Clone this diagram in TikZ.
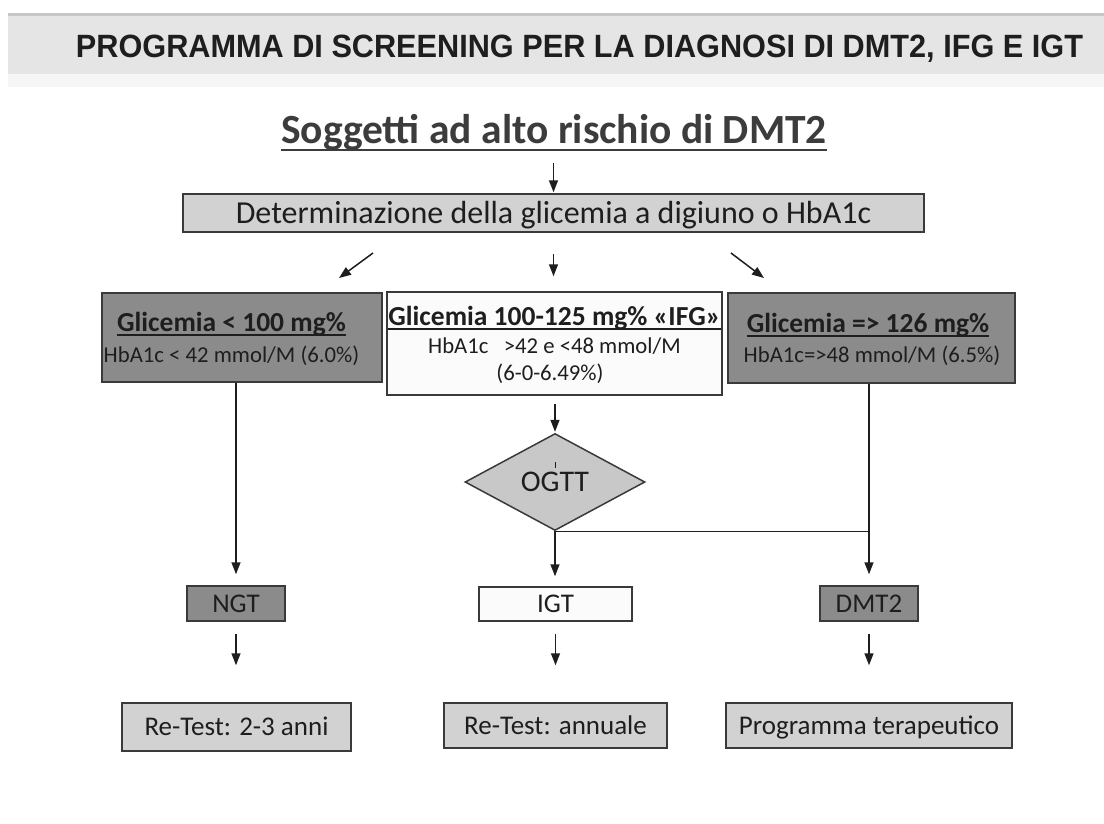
\documentclass[tikz,border=0pt]{standalone}
\usepackage{fontspec}
\usepackage{graphicx}
\setmainfont{Carlito}
\newfontfamily\titlefont{Liberation Sans}
\usetikzlibrary{shapes.geometric,arrows.meta}
\definecolor{darkfill}{HTML}{8B8B8B}
\definecolor{lightfill}{HTML}{D2D2D2}
\definecolor{diamfill}{HTML}{C8C8C8}
\definecolor{whitefill}{HTML}{FBFBFB}
\definecolor{edge}{HTML}{3A3A3A}
\definecolor{ink}{HTML}{1E1E1E}
\definecolor{softink}{HTML}{3C3C3C}
\definecolor{band}{HTML}{E5E5E5}
\definecolor{bandtop}{HTML}{C6C6C6}
\definecolor{bandfade}{HTML}{F6F6F6}
\begin{document}
\begin{tikzpicture}[x=1pt,y=-1pt,
  box/.style={draw=edge, line width=1.5pt, inner sep=0pt},
  lightbox/.style={box, fill=lightfill},
  darkbox/.style={box, fill=darkfill},
  whitebox/.style={box, fill=whitefill},
  boxlabel/.style={inner sep=0pt, text=ink, font=\fontsize{27}{30}\selectfont, text height=17.5pt, text depth=0pt},
  linetext/.style={inner sep=0pt, anchor=base, text=ink},
  boldline/.style={linetext, font=\fontsize{27.5}{30}\selectfont\bfseries},
  plainline/.style={linetext, font=\fontsize{22.7}{26}\selectfont},
  uline/.style={draw=ink, line width=1.6pt},
  arr/.style={draw=ink, fill=ink, line width=1.5pt, -{Triangle[length=12pt,width=9pt]}},
  link/.style={draw=ink, line width=1.5pt}]

\useasboundingbox (0,0) rectangle (1104,823);
\fill[white] (0,0) rectangle (1104,823);

% banner
\fill[bandtop] (8,13) rectangle (1104,16);
\fill[band] (8,16) rectangle (1104,74);
\fill[bandfade] (8,74) rectangle (1104,87);
\node[anchor=base, inner sep=0pt, text=ink] (title) at (579.5,57)
  {\resizebox{1007pt}{22.5pt}{\titlefont\bfseries PROGRAMMA DI SCREENING PER LA DIAGNOSI DI DMT2, IFG E IGT}};

% heading
\node[anchor=base, inner sep=0pt, text=softink, font=\fontsize{41.5}{44}\selectfont\bfseries] (sogg) at (554,143)
  {Soggetti ad alto rischio di DMT2};
\draw[draw=softink, line width=2.6pt] ([yshift=-7pt]sogg.base west) -- ([yshift=-7pt]sogg.base east);

% first test box
\node[lightbox, minimum width=741pt, minimum height=38pt, text=ink,
      font=\fontsize{32}{34}\selectfont, text height=20pt, text depth=0pt] (det) at (553.5,213)
  {Determinazione della glicemia a digiuno o HbA1c};

% three outcome boxes
\node[darkbox, minimum width=280pt, minimum height=89pt] (left) at (242,337.5) {};
\node[boldline] (lefttitle) at (231.5,331) {Glicemia < 100 mg\%};
\node[plainline] (leftsub) at (231.5,362) {HbA1c < 42 mmol/M (6.0\%)};
\draw[uline] ([yshift=-4pt]lefttitle.base west) -- ([yshift=-4pt]lefttitle.base east);

\node[whitebox, minimum width=335pt, minimum height=103pt] (mid) at (554.5,343.5) {};
\node[boldline] (midtitle) at (554.5,325) {Glicemia 100-125 mg\% «IFG»};
\node[plainline] (midsub) at (554.5,353) {HbA1c\ \ \ >42 e <48 mmol/M};
\node[plainline] (midsubb) at (550,380) {(6-0-6.49\%)};
\draw[uline] ([yshift=-4pt]midtitle.base west) -- ([yshift=-4pt]midtitle.base east);

\node[darkbox, minimum width=287pt, minimum height=90pt] (right) at (871.5,338) {};
\node[boldline] (righttitle) at (868,332) {Glicemia => 126 mg\%};
\node[plainline] (rightsub) at (872,362) {HbA1c=>48 mmol/M (6.5\%)};
\draw[uline] ([yshift=-4pt]righttitle.base west) -- ([yshift=-4pt]righttitle.base east);

% OGTT decision
\node[diamond, draw=edge, fill=diamfill, line width=1.5pt, aspect=1.9, inner sep=0pt,
      minimum width=180pt, minimum height=97pt, text=ink, font=\fontsize{30}{32}\selectfont] (ogtt) at (555,482) {OGTT};
\draw[ink, line width=0.8pt] (555,462) -- (555,468);

% result boxes
\node[darkbox, boxlabel, minimum width=98pt, minimum height=35pt] (ngt) at (236,603.5) {NGT};
\node[whitebox, boxlabel, minimum width=153pt, minimum height=34pt] (igt) at (555.5,604) {IGT};
\node[darkbox, boxlabel, minimum width=98pt, minimum height=35pt] (dmt) at (869,603.5) {DMT2};

% follow-up boxes
\node[lightbox, boxlabel, minimum width=229pt, minimum height=48pt] (rta) at (236.5,727) {Re-Test: 2-3 anni};
\node[lightbox, boxlabel, minimum width=223pt, minimum height=45pt] (rtb) at (555.5,725.5) {Re-Test: annuale};
\node[lightbox, boxlabel, minimum width=286pt, minimum height=45pt] (prog) at (869,725.5) {Programma terapeutico};

% connectors
\coordinate (dla) at (373,253);
\coordinate (dlb) at (339,278);
\coordinate (dra) at (731,253);
\coordinate (drb) at (764,278);
\draw[arr, shorten <=13pt, shorten >=1pt] (det.north |- sogg.south) -- (det.north);
\draw[arr] (dla) -- (dlb);
\draw[arr, shorten <=21pt, shorten >=15pt] (det.south) -- (det.south |- mid.north);
\draw[arr] (dra) -- (drb);

\draw[arr, shorten >=11pt] (left.south -| ngt.north) -- (ngt.north);
\draw[arr, shorten <=8pt, shorten >=1pt] (mid.south -| ogtt.north) -- (ogtt.north);
\draw[link] (ogtt.south) -- (ogtt.south -| dmt.north);
\draw[arr, shorten >=10pt] (ogtt.south) -- (igt.north -| ogtt.south);
\draw[arr, shorten >=11pt] (right.south -| dmt.north) -- (dmt.north);

\draw[arr, shorten <=12pt, shorten >=37pt] (ngt.south) -- (ngt.south |- rta.north);
\draw[arr, shorten <=12pt, shorten >=37pt] (igt.south) -- (igt.south |- rtb.north);
\draw[arr, shorten <=12pt, shorten >=37pt] (dmt.south) -- (dmt.south |- prog.north);
\end{tikzpicture}
\end{document}
